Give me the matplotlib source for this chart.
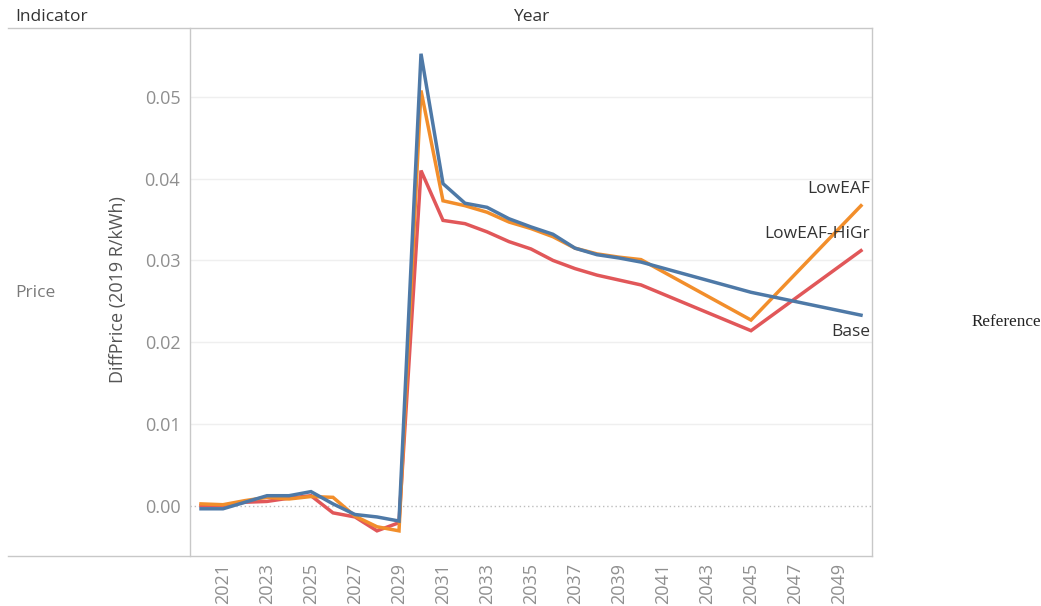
import matplotlib
matplotlib.use("Agg")
import matplotlib.pyplot as plt
from matplotlib.lines import Line2D

plt.rcParams['font.family'] = ['Open Sans', 'DejaVu Sans']

# Years with values (yearly to 2040, then 5-year steps)
years = [2020, 2021, 2022, 2023, 2024, 2025, 2026, 2027, 2028, 2029, 2030,
         2031, 2032, 2033, 2034, 2035, 2036, 2037, 2038, 2039, 2040, 2045, 2050]

base = [-0.0004, -0.0004, 0.0004, 0.0012, 0.0012, 0.0017, 0.0002, -0.0011, -0.0014, -0.0019, 0.0553,
        0.0394, 0.0370, 0.0365, 0.0351, 0.0341, 0.0332, 0.0315, 0.0307, 0.0303, 0.0298, 0.0261, 0.0233]
low_eaf = [0.0002, 0.0001, 0.0006, 0.0010, 0.0008, 0.0011, 0.0010, -0.0013, -0.0026, -0.0031, 0.0508,
           0.0373, 0.0367, 0.0359, 0.0347, 0.0339, 0.0329, 0.0315, 0.0308, 0.0304, 0.0301, 0.0227, 0.0367]
low_eaf_higr = [0.0000, 0.0000, 0.0004, 0.0005, 0.0009, 0.0012, -0.0009, -0.0014, -0.0031, -0.0021, 0.0410,
                0.0349, 0.0345, 0.0335, 0.0323, 0.0314, 0.0300, 0.0290, 0.0282, 0.0276, 0.0270, 0.0214, 0.0312]

series_names = ["LowEAF-HiGr", "LowEAF", "Base"]
series_values = [low_eaf_higr, low_eaf, base]
series_colors = ["#e15759", "#f28e2b", "#4e79a7"]
label_offsets = [(9, 17), (9, 17), (9, -17)]

tick_years = list(range(2021, 2050, 2))
y_ticks = [0.00, 0.01, 0.02, 0.03, 0.04, 0.05]

W, H = 1041, 606
fig = plt.figure(figsize=(W / 100, H / 100), dpi=100)
ax = fig.add_axes([190 / W, 1 - 556 / H, (872 - 190) / W, (556 - 28) / H])

for name, vals, col, off in zip(series_names, series_values, series_colors, label_offsets):
    ax.plot(years, vals, color=col, lw=2.5, solid_joinstyle='miter', zorder=3)
    ax.annotate(name, (years[-1], vals[-1]), xytext=off, textcoords='offset pixels',
                ha='right', va='center', fontsize=12.5, color='#333333', zorder=4)

ax.set_xlim(2019.5, 2050.5)
ax.set_ylim(-0.00618, 0.05845)
ax.set_xticks(tick_years)
ax.set_xticklabels([str(y) for y in tick_years], rotation=90)
ax.set_yticks(y_ticks)
ax.set_yticklabels([f"{v:.2f}" for v in y_ticks])
ax.tick_params(axis='both', length=0, colors='#8f8f8f', labelsize=13)
ax.tick_params(axis='x', pad=5)
ax.tick_params(axis='y', pad=7)

for v in y_ticks[1:]:
    ax.axhline(v, color='#efefef', lw=1, zorder=1)
ax.axhline(0, color='#bdbdbd', lw=1, ls=(0, (1, 2)), zorder=1)

for side in ['top', 'left', 'bottom']:
    ax.spines[side].set_visible(False)
ax.spines['right'].set_color('#c8c8c8')
ax.spines['right'].set_linewidth(1)

# Table frame lines around the header and row pane
line_col = '#c8c8c8'
fig.add_artist(Line2D([8 / W, 872 / W], [1 - 28 / H, 1 - 28 / H], color=line_col, lw=1))
fig.add_artist(Line2D([8 / W, 872 / W], [1 - 556 / H, 1 - 556 / H], color=line_col, lw=1))
fig.add_artist(Line2D([190 / W, 190 / W], [1 - 28 / H, 1 - 556 / H], color=line_col, lw=1))

fig.text(15 / W, 1 - 17 / H, "Indicator", ha='left', va='center', fontsize=12.5, color='#333333')
fig.text(531 / W, 1 - 17 / H, "Year", ha='center', va='center', fontsize=12.5, color='#333333')
fig.text(15 / W, 1 - 293 / H, "Price", ha='left', va='center', fontsize=12.5, color='#7a7a7a')
fig.text(118 / W, 1 - 290 / H, "DiffPrice (2019 R/kWh)", ha='center', va='center',
         rotation=90, fontsize=13, color='#555555')
fig.text(1006 / W, 1 - 322 / H, "Reference", ha='center', va='center', fontsize=12.3,
         color='#222222', family=['Liberation Serif', 'DejaVu Serif'])

fig.savefig("out.png", dpi=100)
